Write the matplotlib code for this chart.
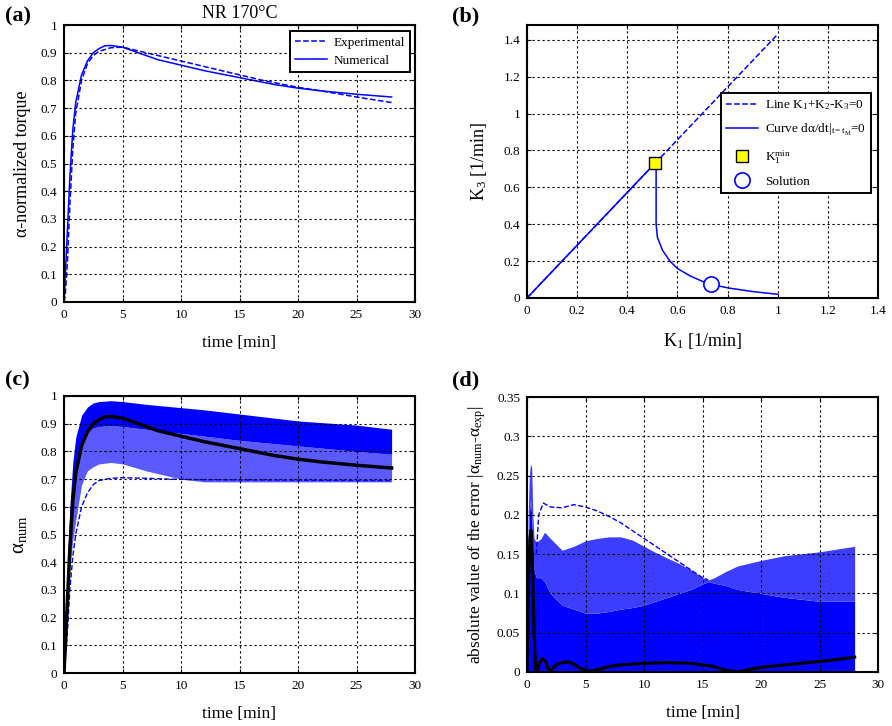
import numpy as np
import matplotlib
matplotlib.use("Agg")
import matplotlib.pyplot as plt

plt.rcParams['font.family'] = ['Liberation Serif', 'DejaVu Serif']
plt.rcParams['mathtext.fontset'] = 'custom'
plt.rcParams['mathtext.rm'] = 'Liberation Serif'
plt.rcParams['mathtext.it'] = 'Liberation Serif:italic'
plt.rcParams['mathtext.default'] = 'rm'

# (a) normalized torque, experimental vs numerical
t_num = [0, 0.25, 0.5, 0.75, 1, 1.5, 2, 2.5, 3, 3.5, 4, 5, 6, 7, 8, 10, 12, 15, 18, 20, 22, 25, 28]
a_num = [0, 0.22, 0.45, 0.62, 0.72, 0.82, 0.87, 0.9, 0.915, 0.925, 0.926, 0.92, 0.905, 0.89,
         0.875, 0.855, 0.835, 0.81, 0.785, 0.772, 0.762, 0.75, 0.74]
t_exp = [0, 0.1, 0.3, 0.5, 0.75, 1, 1.5, 2, 2.5, 3, 4, 5, 6, 8, 10, 12, 15, 17, 20, 22, 25, 28]
a_exp = [0, 0.02, 0.15, 0.35, 0.55, 0.68, 0.8, 0.86, 0.89, 0.905, 0.918, 0.92, 0.91, 0.89,
         0.87, 0.85, 0.82, 0.8, 0.775, 0.762, 0.74, 0.72]

# (b) K1-K3 plane
line_k1 = [0, 1.0]
line_k3 = [0, 1.43]
curve_k1 = [0, 0.51, 0.515, 0.515, 0.52, 0.54, 0.57, 0.6, 0.65, 0.7, 0.733, 0.8, 0.9, 1.0]
curve_k3 = [0, 0.73, 0.73, 0.40, 0.33, 0.26, 0.2, 0.16, 0.12, 0.09, 0.075, 0.055, 0.035, 0.02]
kmin = (0.51, 0.73)
sol = (0.733, 0.075)

# (c) family of numerical curves: envelopes
tc = [0, 0.25, 0.5, 0.75, 1, 1.5, 2, 2.5, 3, 4, 5, 7, 9, 10, 12, 15, 20, 25, 28]
c_upper = [0, 0.35, 0.6, 0.76, 0.85, 0.93, 0.96, 0.975, 0.98, 0.983, 0.98, 0.97, 0.962, 0.958,
           0.95, 0.935, 0.91, 0.895, 0.88]
c_dense = [0, 0.3, 0.5, 0.66, 0.75, 0.84, 0.87, 0.885, 0.89, 0.893, 0.89, 0.88, 0.87, 0.865,
           0.855, 0.84, 0.82, 0.8, 0.79]
c_lower = [0, 0.2, 0.38, 0.48, 0.55, 0.68, 0.73, 0.745, 0.755, 0.76, 0.755, 0.73, 0.71, 0.7,
           0.69, 0.69, 0.69, 0.69, 0.69]
c_low_curve = [0, 0.12, 0.3, 0.42, 0.5, 0.6, 0.65, 0.68, 0.695, 0.703, 0.705, 0.703, 0.7,
               0.699, 0.698, 0.697, 0.696, 0.695, 0.695]

# (d) absolute error of the family
td = [0, 0.1, 0.2, 0.3, 0.4, 0.5, 0.6, 0.8, 1.2, 1.5, 2, 3, 4, 5, 6, 7, 8, 9, 10, 11, 12, 13,
      14, 15, 15.5, 16, 17, 18, 20, 22, 25, 28]
d_upper = [0, 0.2, 0.25, 0.265, 0.26, 0.2, 0.17, 0.165, 0.17, 0.178, 0.17, 0.155, 0.16, 0.167,
           0.17, 0.172, 0.172, 0.168, 0.16, 0.152, 0.145, 0.138, 0.13, 0.12, 0.117, 0.12, 0.128,
           0.135, 0.142, 0.148, 0.153, 0.16]
d_dense = [0, 0.15, 0.2, 0.22, 0.2, 0.15, 0.13, 0.12, 0.12, 0.115, 0.1, 0.085, 0.08, 0.075,
           0.075, 0.077, 0.08, 0.082, 0.085, 0.09, 0.095, 0.1, 0.105, 0.112, 0.115, 0.113, 0.11,
           0.105, 0.1, 0.095, 0.09, 0.09]
td_out = [0.8, 1.0, 1.4, 2, 3, 4, 5, 6, 7, 8, 9, 10, 11, 12, 13, 14, 15, 15.5]
d_out = [0.15, 0.2, 0.215, 0.21, 0.209, 0.213, 0.21, 0.205, 0.198, 0.19, 0.18, 0.17, 0.16, 0.15,
         0.14, 0.13, 0.12, 0.117]
td_best = [0, 0.1, 0.25, 0.35, 0.45, 0.6, 0.75, 0.9, 1.0, 1.3, 1.6, 1.9, 2.2, 2.6, 3, 3.5, 4,
           4.5, 5, 5.5, 6, 7, 8, 9, 10, 12, 14, 15, 16, 17, 18, 19, 20, 22, 24, 26, 28]
d_best = [0, 0.1, 0.17, 0.18, 0.15, 0.05, 0.0, 0.0, 0.01, 0.017, 0.013, 0.0, 0.005, 0.01, 0.012,
          0.013, 0.01, 0.005, 0.002, 0.001, 0.003, 0.007, 0.009, 0.01, 0.011, 0.012, 0.011,
          0.009, 0.007, 0.002, 0.0, 0.003, 0.006, 0.009, 0.012, 0.015, 0.019]

BLUE = '#0000ff'
W, H = 892, 726


def make_ax(fig, left, right, top, bottom):
    ax = fig.add_axes([left / W, 1 - bottom / H, (right - left) / W, (bottom - top) / H])
    ax.grid(True, color='black', linestyle=(0, (2, 2.5)), linewidth=0.8)
    ax.tick_params(direction='in', top=True, right=True, labelsize=9.5, length=3, width=0.8,
                   pad=5)
    for s in ax.spines.values():
        s.set_linewidth(1.5)
    ax.set_axisbelow(False)
    return ax


def box_legend(ax, **kw):
    leg = ax.legend(fontsize=9.5, fancybox=False, framealpha=1, handlelength=2.4,
                    handletextpad=0.5, borderaxespad=0, **kw)
    leg.get_frame().set_edgecolor('black')
    leg.get_frame().set_linewidth(1.4)
    return leg


fig = plt.figure(figsize=(W / 100, H / 100), dpi=100)

# ---- (a)
ax = make_ax(fig, 64, 415, 25, 302)
ax.plot(t_exp, a_exp, color=BLUE, linestyle='--', lw=1.1, label='Experimental')
ax.plot(t_num, a_num, color=BLUE, lw=1.1, label='Numerical')
ax.set_xlim(0, 30)
ax.set_ylim(0, 1)
ax.set_xticks(range(0, 31, 5))
ax.set_yticks(np.arange(0, 1.01, 0.1))
ax.set_yticklabels(['0', '0.1', '0.2', '0.3', '0.4', '0.5', '0.6', '0.7', '0.8', '0.9', '1'])
ax.set_xlabel('time [min]', fontsize=12.5, labelpad=10)
ax.set_ylabel('α-normalized torque', fontsize=13, labelpad=7)
ax.set_title('NR 170°C', fontsize=13, pad=5)
box_legend(ax, loc='upper right', bbox_to_anchor=(0.986, 0.978), labelspacing=0.45)

# ---- (b)
ax = make_ax(fig, 527, 878, 25, 298)
ax.plot(line_k1, line_k3, color=BLUE, linestyle='--', lw=1.1, label='Line K$_1$+K$_2$-K$_3$=0')
ax.plot(curve_k1, curve_k3, color=BLUE, lw=1.1, label='Curve dα/dt$|_{t=t_M}$=0')
ax.plot([kmin[0]], [kmin[1]], 's', ms=9, mfc='#ffff00', mec='black', mew=1.0,
        linestyle='none', label='K$_1^{min}$')
ax.plot([sol[0]], [sol[1]], 'o', ms=11, mfc='white', mec=BLUE, mew=1.2,
        linestyle='none', label='Solution')
ax.set_xlim(0, 1.4)
ax.set_ylim(0, 1.48)
ax.set_xticks(np.arange(0, 1.41, 0.2))
ax.set_xticklabels(['0', '0.2', '0.4', '0.6', '0.8', '1', '1.2', '1.4'])
ax.set_yticks(np.arange(0, 1.41, 0.2))
ax.set_yticklabels(['0', '0.2', '0.4', '0.6', '0.8', '1', '1.2', '1.4'])
ax.set_xlabel('K$_1$ [1/min]', fontsize=13, labelpad=10)
ax.set_ylabel('K$_3$ [1/min]', fontsize=13, labelpad=10)
box_legend(ax, loc='upper right', bbox_to_anchor=(0.98, 0.751), labelspacing=0.75)

# ---- (c)
ax = make_ax(fig, 64, 415, 396, 673)
ax.fill_between(tc, c_lower, c_dense, color='#5a5aff', lw=0, zorder=2)
ax.fill_between(tc, c_dense, c_upper, color=BLUE, lw=0, zorder=2)
ax.plot(tc, c_low_curve, color=BLUE, linestyle='--', lw=1.0, zorder=2)
ax.plot(t_num, a_num, color='black', lw=2.5, zorder=3)
ax.set_xlim(0, 30)
ax.set_ylim(0, 1)
ax.set_xticks(range(0, 31, 5))
ax.set_yticks(np.arange(0, 1.01, 0.1))
ax.set_yticklabels(['0', '0.1', '0.2', '0.3', '0.4', '0.5', '0.6', '0.7', '0.8', '0.9', '1'])
ax.set_xlabel('time [min]', fontsize=12.5, labelpad=10)
ax.set_ylabel('α$_{num}$', fontsize=15, labelpad=8)

# ---- (d)
ax = make_ax(fig, 527, 878, 397, 672)
ax.fill_between(td, 0, d_dense, color=BLUE, lw=0, zorder=2)
ax.fill_between(td, d_dense, d_upper, color='#3d3dff', lw=0, zorder=2)
ax.plot(td_out, d_out, color=BLUE, linestyle='--', lw=1.0, zorder=2)
ax.plot(td_best, d_best, color='black', lw=2.3, zorder=3)
ax.set_xlim(0, 30)
ax.set_ylim(0, 0.35)
ax.set_xticks(range(0, 31, 5))
ax.set_yticks(np.arange(0, 0.351, 0.05))
ax.set_yticklabels(['0', '0.05', '0.1', '0.15', '0.2', '0.25', '0.3', '0.35'])
ax.set_xlabel('time [min]', fontsize=12.5, labelpad=10)
ax.set_ylabel('absolute value of the error |α$_{num}$-α$_{exp}$|', fontsize=12.5, labelpad=6)

for lab, x, y in [('(a)', 5, 6), ('(b)', 452, 6), ('(c)', 5, 370), ('(d)', 452, 370)]:
    fig.text(x / W, 1 - y / H, lab, fontsize=16, fontweight='bold', ha='left', va='top')

fig.savefig('out.png', dpi=100)
